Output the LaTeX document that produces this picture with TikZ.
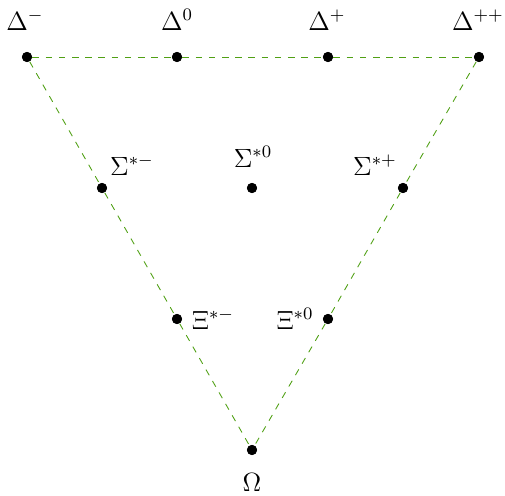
\documentclass[tikz,border=0pt]{standalone}
\definecolor{lgreen}{RGB}{80,160,20}
\begin{document}
\begin{tikzpicture}[x=0.455pt,y=-0.455pt,
  dot/.style={circle,fill=black,inner sep=0pt,minimum size=4.6pt},
  lbl/.style={inner sep=0pt,anchor=center,font=\large},
  edge/.style={lgreen,dashed,line width=0.4pt}]
\useasboundingbox (0,0) rectangle (505,496);
\node[dot] (dm) at (27,57) {};
\node[dot] (d0) at (177,57) {};
\node[dot] (dp) at (328,57) {};
\node[dot] (dpp) at (479,57) {};
\node[dot] (sm) at (102,188) {};
\node[dot] (s0) at (252,188) {};
\node[dot] (sp) at (403,188) {};
\node[dot] (xm) at (177,319) {};
\node[dot] (x0) at (328,319) {};
\node[dot] (om) at (252,450) {};
\draw[edge] (dm) -- (d0) -- (dp) -- (dpp);
\draw[edge] (dm) -- (sm) -- (xm) -- (om);
\draw[edge] (dpp) -- (sp) -- (x0) -- (om);
\node[lbl] (ldm) at (25,20) {$\Delta^-$};
\node[lbl] (ld0) at (177,20) {$\Delta^0$};
\node[lbl] (ldp) at (327,20) {$\Delta^+$};
\node[lbl] (ldpp) at (478,20) {$\Delta^{++}$};
\node[lbl] (lsm) at (132,165) {$\Sigma^{*-}$};
\node[lbl] (ls0) at (253,157) {$\Sigma^{*0}$};
\node[lbl] (lsp) at (375,165) {$\Sigma^{*+}$};
\node[lbl] (lxm) at (213,319) {$\Xi^{*-}$};
\node[lbl] (lx0) at (295,319) {$\Xi^{*0}$};
\node[lbl] (lom) at (252,482) {$\Omega$};
\foreach \n in {dm,d0,dp,dpp,sm,s0,sp,xm,x0,om} \fill (\n) circle (2.3pt);
\end{tikzpicture}
\end{document}
